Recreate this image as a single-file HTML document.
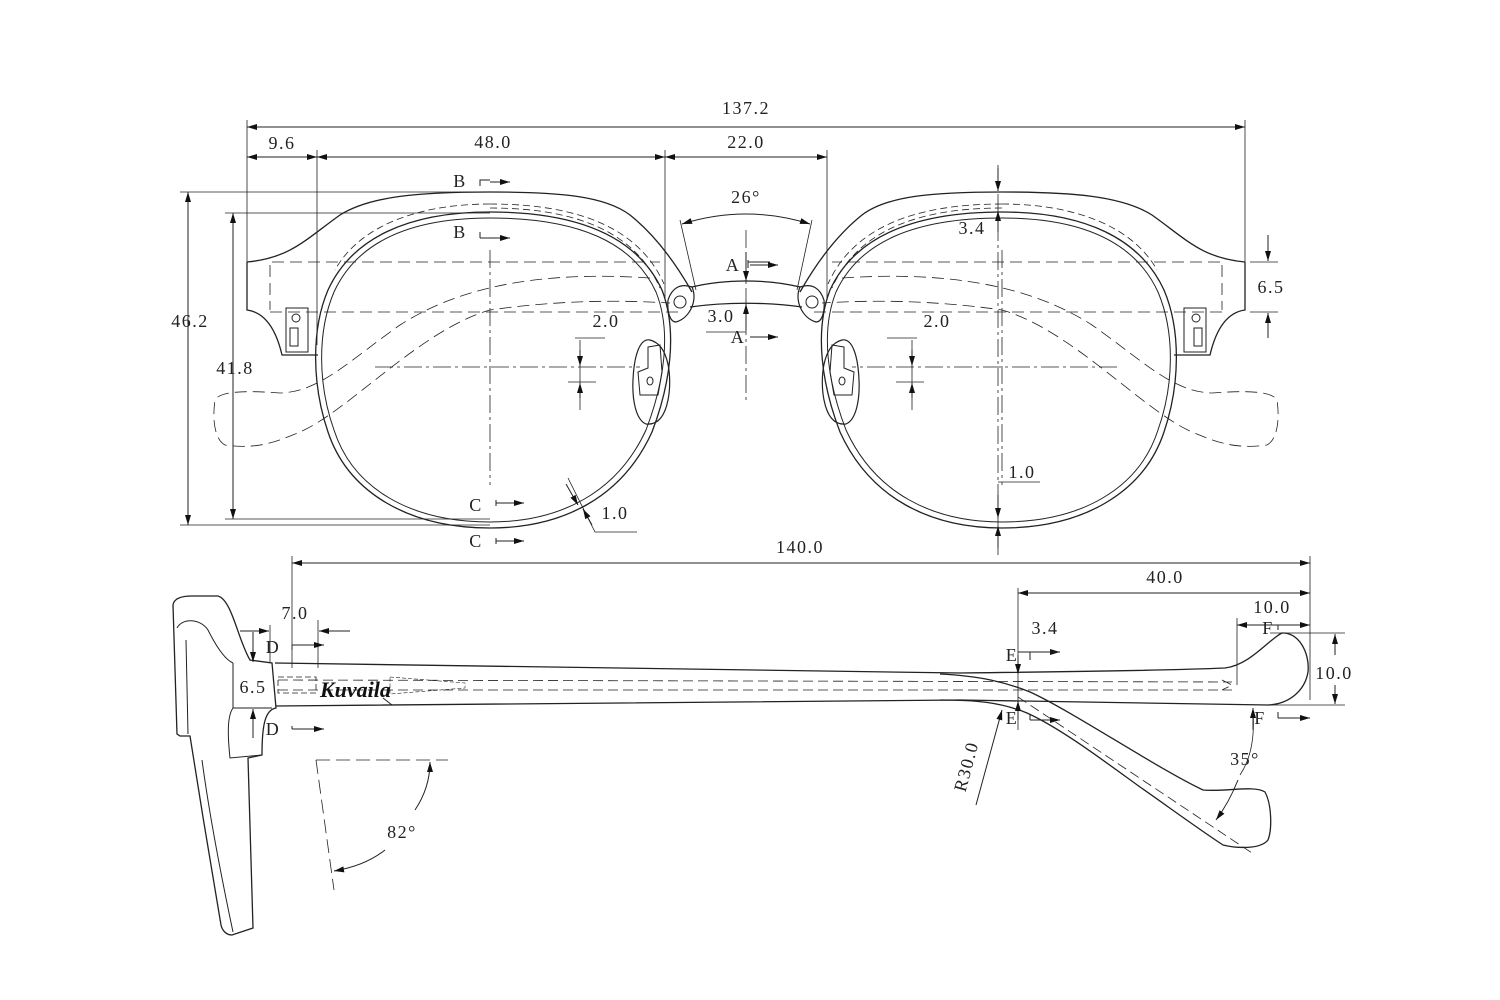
<!DOCTYPE html>
<html><head><meta charset="utf-8"><style>
html,body{margin:0;padding:0;background:#fff;}
svg{display:block;}
text{font-family:"Liberation Serif",serif;font-size:18px;fill:#222;letter-spacing:1.5px;}
</style></head><body>
<svg width="1500" height="1000" viewBox="0 0 1500 1000" xmlns="http://www.w3.org/2000/svg">
<defs>
<marker id="a" viewBox="0 0 10 6" refX="10" refY="3" markerWidth="14" markerHeight="6" markerUnits="userSpaceOnUse" orient="auto-start-reverse"><path d="M0,0 L10,3 L0,6 Z" fill="#111"/></marker>
</defs>
<g fill="none" stroke="#222" stroke-width="1">
<g id="half">
  <path stroke-width="1.3" d="M247,262 C290,258 305,240 340,215 C370,196 420,192 490,192 C560,192 605,196 630,215 C655,235 675,262 692,292"/>
  <path stroke-width="1.3" d="M247,262 L247,310 C262,312 275,325 282,355 L318,355"/>
  <path stroke-width="1.3" d="M490,212 C580,212 638,238 662,290 C678,332 670,385 652,432 C622,498 562,528 490,528 C408,528 348,492 328,432 C312,385 311,330 328,290 C352,238 408,212 490,212 Z"/>
  <path d="M490,218 C578,218 633,242 656,292 C672,332 664,383 646,430 C617,493 560,522 490,522 C411,522 353,489 334,430 C318,385 317,332 334,292 C357,242 410,218 490,218 Z"/>
  <path stroke-dasharray="7,4" stroke-width="0.8" d="M490,204 C582,204 640,230 664,284"/>
  <path stroke-dasharray="7,4" stroke-width="0.8" d="M490,208 C580,208 636,234 660,288"/>
  <path stroke-dasharray="7,4" stroke-width="0.8" d="M490,204 C420,204 360,225 335,270"/>
  <rect x="286" y="308" width="22" height="44"/>
  <circle cx="296" cy="318" r="4"/>
  <rect x="290" y="328" width="8" height="18"/>
  <path stroke-dasharray="12,6" stroke-width="0.8" d="M272,262 L660,262"/>
  <path stroke-dasharray="12,6" stroke-width="0.8" d="M270,312 L680,312"/>
  <path stroke-dasharray="12,6" stroke-width="0.8" d="M270,265 L270,310"/>
  <path stroke-dasharray="12,6" stroke-width="0.8" d="M650,278 C560,272 470,280 400,325 C350,360 320,392 280,393 C240,390 220,392 215,400 C212,420 215,440 225,445 C260,450 280,440 300,432 C350,410 420,330 490,310 C560,300 620,300 670,303"/>
  <path stroke-width="1.2" d="M668,300 C672,288 680,283 692,287 C698,300 690,318 676,322 C670,322 667,312 668,300"/>
  <circle cx="680" cy="302" r="6"/>
  <path stroke-width="1.2" d="M650,340 C670,345 672,380 668,400 C664,420 655,425 646,424 C636,420 632,400 633,380 C634,355 640,338 650,340 Z"/>
  <path d="M648,347 L660,345 L662,372 L658,395 L640,395 L638,372 L648,368 Z"/>
  <ellipse cx="650" cy="381" rx="3" ry="4"/>
  <path stroke-dasharray="18,4,3,4" stroke-width="0.8" d="M490,250 L490,485"/>
  <path stroke-dasharray="18,4,3,4" stroke-width="0.8" d="M375,367 L640,367"/>
  <path stroke-width="0.8" d="M575,338 L605,338 M568,382 L596,382 M580,340 L580,410" />
  <line x1="580" y1="350" x2="580" y2="366" marker-end="url(#a)"/>
  <line x1="580" y1="398" x2="580" y2="383" marker-end="url(#a)"/>
</g>
<use href="#half" transform="translate(1492,0) scale(-1,1)"/>

<path stroke-width="1.3" d="M692,287 C725,279 767,279 800,287"/>
<path stroke-width="1.3" d="M690,307 C725,302 767,302 802,307"/>
<path stroke-dasharray="18,4,3,4" stroke-width="0.8" d="M746,230 L746,400"/>
<line x1="746" y1="252" x2="746" y2="281" marker-end="url(#a)"/>
<line x1="746" y1="330" x2="746" y2="304" marker-end="url(#a)"/>
<path stroke-width="0.8" d="M706,332 L746,332"/>
<path stroke-width="0.8" d="M680,220 L696,290 M812,220 L797,290"/>
<path d="M682,224 Q746,204 810,224" marker-start="url(#a)" marker-end="url(#a)"/>
<path d="M748,260 L748,268 M748,262 L770,262" /><line x1="750" y1="265" x2="778" y2="265" marker-end="url(#a)"/>
<line x1="750" y1="337" x2="778" y2="337" marker-end="url(#a)"/>
<path d="M480,186 L480,180 L490,180"/><line x1="490" y1="182" x2="510" y2="182" marker-end="url(#a)"/>
<path d="M480,232 L480,238"/><line x1="480" y1="238" x2="510" y2="238" marker-end="url(#a)"/>
<path d="M496,506 L496,500"/><line x1="496" y1="503" x2="524" y2="503" marker-end="url(#a)"/>
<path d="M496,544 L496,538"/><line x1="496" y1="541" x2="524" y2="541" marker-end="url(#a)"/>

<path stroke-width="0.8" d="M247,120 L247,262 M1245,120 L1245,262 M317,150 L317,345 M665,150 L665,300 M827,150 L827,300"/>
<line x1="260" y1="127" x2="247" y2="127" marker-end="url(#a)"/><line x1="260" y1="127" x2="1245" y2="127" marker-end="url(#a)"/>
<line x1="282" y1="157" x2="247" y2="157" marker-end="url(#a)"/><line x1="282" y1="157" x2="317" y2="157" marker-end="url(#a)"/>
<line x1="490" y1="157" x2="317" y2="157" marker-end="url(#a)"/><line x1="490" y1="157" x2="665" y2="157" marker-end="url(#a)"/>
<line x1="746" y1="157" x2="665" y2="157" marker-end="url(#a)"/><line x1="746" y1="157" x2="827" y2="157" marker-end="url(#a)"/>
<path stroke-width="0.8" d="M180,192 L490,192 M180,525 L490,525 M225,213 L490,213 M225,519 L490,519"/>
<line x1="188" y1="350" x2="188" y2="192" marker-end="url(#a)"/><line x1="188" y1="350" x2="188" y2="525" marker-end="url(#a)"/>
<line x1="233" y1="380" x2="233" y2="213" marker-end="url(#a)"/><line x1="233" y1="380" x2="233" y2="519" marker-end="url(#a)"/>
<path stroke-dasharray="18,4,3,4" stroke-width="0.8" d="M998,165 L998,555"/>
<line x1="998" y1="168" x2="998" y2="191" marker-end="url(#a)"/><line x1="998" y1="232" x2="998" y2="211" marker-end="url(#a)"/>
<path stroke-width="0.8" d="M1250,262 L1278,262 M1250,312 L1278,312"/>
<line x1="1268" y1="235" x2="1268" y2="261" marker-end="url(#a)"/><line x1="1268" y1="338" x2="1268" y2="313" marker-end="url(#a)"/>
<line x1="998" y1="495" x2="998" y2="518" marker-end="url(#a)"/><line x1="998" y1="548" x2="998" y2="526" marker-end="url(#a)"/>
<path stroke-width="0.8" d="M998,482 L1040,482"/>
<path stroke-width="0.8" d="M568,478 L595,532 L637,532"/>
<line x1="566" y1="484" x2="578" y2="505" marker-end="url(#a)"/>
<line x1="592" y1="525" x2="583" y2="509" marker-end="url(#a)"/>

<!-- ===== SIDE VIEW frame ===== -->
<path stroke-width="1.3" d="M173,605 C174,598 182,596 192,596 L218,596 C232,600 238,640 250,660 L272,663 L276,708 C265,710 262,725 262,755 L248,758 L253,928 L232,935 C226,935 222,930 221,925 C210,860 200,800 190,736 L180,736 L177,734 Z"/>
<path d="M177,628 C182,618 200,618 208,630 C218,650 226,660 233,663"/>
<path d="M186,640 L188,734"/>
<path d="M233,663 L233,708 L272,708 M233,708 C228,715 227,730 230,758 L262,755"/>
<path d="M202,760 C210,820 222,880 233,932"/>
<!-- temple -->
<path stroke-width="1.3" d="M275,663 L960,673 C1050,672 1180,670 1225,668 C1250,665 1268,640 1282,633 C1298,632 1310,652 1308,672 C1305,690 1290,704 1268,705 L960,700 L276,706"/>
<path stroke-width="1.3" d="M940,674 C980,676 1005,682 1030,692 C1070,710 1160,770 1203,790 C1225,792 1255,785 1265,792 C1272,805 1272,830 1268,840 C1260,850 1235,848 1223,845 C1200,830 1170,808 1140,787 C1100,758 1060,728 1027,713 C1000,702 975,700 940,700"/>
<path stroke-dasharray="10,5" stroke-width="0.8" d="M1018,697 L1255,855"/>
<path stroke-dasharray="10,5" stroke-width="0.8" d="M278,680 L1232,682 M278,690 L1232,690 M1222,680 L1232,685 L1222,690"/>
<rect x="278" y="677" width="38" height="16" stroke-dasharray="6,3" stroke-width="0.8"/>
<path stroke-dasharray="4,2" stroke-width="0.6" d="M390,677 L465,683 L465,688 L390,694 Z"/>
<path d="M383,698 L392,705"/>
<path stroke-width="0.8" d="M292,556 L292,668 M1310,556 L1310,700 M1018,588 L1018,730 M1237,618 L1237,685 M1270,633 L1345,633 M1270,705 L1345,705 M318,620 L318,668 M270,625 L270,663"/>
<line x1="800" y1="563" x2="292" y2="563" marker-end="url(#a)"/><line x1="800" y1="563" x2="1310" y2="563" marker-end="url(#a)"/>
<line x1="1165" y1="593" x2="1018" y2="593" marker-end="url(#a)"/><line x1="1165" y1="593" x2="1310" y2="593" marker-end="url(#a)"/>
<line x1="1272" y1="625" x2="1237" y2="625" marker-end="url(#a)"/><line x1="1272" y1="625" x2="1310" y2="625" marker-end="url(#a)"/>
<line x1="1335" y1="655" x2="1335" y2="634" marker-end="url(#a)"/><line x1="1335" y1="685" x2="1335" y2="704" marker-end="url(#a)"/>
<line x1="240" y1="631" x2="269" y2="631" marker-end="url(#a)"/><line x1="350" y1="631" x2="319" y2="631" marker-end="url(#a)"/>
<line x1="253" y1="632" x2="253" y2="662" marker-end="url(#a)"/><line x1="253" y1="738" x2="253" y2="709" marker-end="url(#a)"/>
<line x1="1018" y1="655" x2="1018" y2="674" marker-end="url(#a)"/><line x1="1018" y1="720" x2="1018" y2="701" marker-end="url(#a)"/>
<path d="M292,650 L292,645"/><line x1="292" y1="645" x2="324" y2="645" marker-end="url(#a)"/>
<path d="M292,726 L292,729"/><line x1="292" y1="729" x2="324" y2="729" marker-end="url(#a)"/>
<path d="M1030,660 L1030,652"/><line x1="1030" y1="652" x2="1060" y2="652" marker-end="url(#a)"/>
<path d="M1030,714 L1030,720"/><line x1="1030" y1="720" x2="1060" y2="720" marker-end="url(#a)"/>
<path d="M1278,630 L1278,625"/>
<path d="M1278,712 L1278,718"/><line x1="1278" y1="718" x2="1310" y2="718" marker-end="url(#a)"/>
<path d="M1018,652 L1058,652"/>
<line x1="976" y1="805" x2="1002" y2="710" marker-end="url(#a)"/>
<path stroke-width="0.8" d="M1253,712 C1255,740 1250,760 1240,775"/>
<line x1="1253" y1="730" x2="1253" y2="708" marker-end="url(#a)"/>
<path d="M1238,780 C1232,795 1225,808 1216,820" marker-end="url(#a)"/>
<path stroke-dasharray="14,6" stroke-width="0.8" d="M316,760 L448,760 M316,760 L334,890"/>
<path d="M415,810 C425,795 430,780 430,762" marker-end="url(#a)"/>
<path d="M385,850 C370,862 352,868 334,871" marker-end="url(#a)"/>
</g>

<g text-anchor="middle">
<text x="746" y="114">137.2</text>
<text x="282" y="149">9.6</text>
<text x="493" y="148">48.0</text>
<text x="746" y="148">22.0</text>
<text x="746" y="203">26°</text>
<text x="190" y="327">46.2</text>
<text x="235" y="374">41.8</text>
<text x="460" y="187">B</text>
<text x="460" y="238">B</text>
<text x="476" y="511">C</text>
<text x="476" y="547">C</text>
<text x="733" y="271">A</text>
<text x="738" y="343">A</text>
<text x="721" y="322">3.0</text>
<text x="606" y="327">2.0</text>
<text x="937" y="327">2.0</text>
<text x="972" y="234">3.4</text>
<text x="1271" y="293">6.5</text>
<text x="615" y="519">1.0</text>
<text x="1022" y="478">1.0</text>
<text x="800" y="553">140.0</text>
<text x="1165" y="583">40.0</text>
<text x="1272" y="613">10.0</text>
<text x="1268" y="634">F</text>
<text x="1334" y="679">10.0</text>
<text x="1260" y="724">F</text>
<text x="1045" y="634">3.4</text>
<text x="1012" y="661">E</text>
<text x="1012" y="724">E</text>
<text x="295" y="619">7.0</text>
<text x="273" y="653">D</text>
<text x="273" y="735">D</text>
<text x="253" y="693">6.5</text>
<text x="1245" y="765">35°</text>
<text x="402" y="838">82°</text>
<text x="0" y="0" transform="translate(972,768) rotate(-75)">R30.0</text>
</g>
<text x="320" y="697" style="font-family:'Liberation Serif',serif;font-style:italic;font-weight:bold;font-size:22px;letter-spacing:0;fill:#111">Kuvaila</text>
</svg>
</body></html>
